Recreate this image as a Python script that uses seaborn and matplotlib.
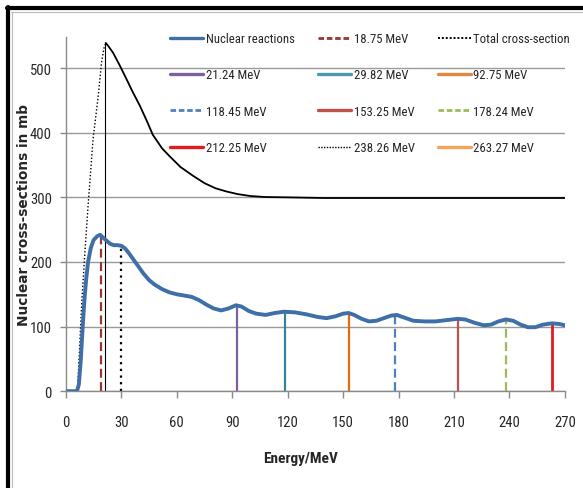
import numpy as np
import pandas as pd
import matplotlib
matplotlib.use('Agg')
import matplotlib.pyplot as plt
import seaborn as sns
from matplotlib.lines import Line2D
from matplotlib import font_manager

# nuclear reaction cross-section
nuc_energy = [0, 6, 7, 8, 9, 10, 11, 12, 13.5, 15, 17, 18.5, 20, 22, 24, 26, 28, 30, 32, 34,
              36, 38, 40, 42, 45, 48, 52, 56, 60, 64, 68, 72, 76, 80, 84, 88, 92, 95, 99,
              103, 108, 113, 118, 124, 130, 136, 141, 146, 150, 153, 156, 160, 164, 168,
              172, 176, 179, 183, 188, 194, 200, 206, 212, 216, 221, 226, 230, 234, 238,
              242, 246, 250, 254, 258, 263, 267, 270]
nuc_sigma = [0, 0, 10, 45, 95, 140, 174, 200, 222, 234, 240, 242, 238, 233, 228, 226, 226,
             225, 221, 214, 206, 198, 190, 182, 172, 165, 158, 153, 150, 148, 146, 141, 134,
             128, 125, 128, 133, 131, 124, 120, 118, 121, 123, 122, 119, 115, 113, 116, 120,
             121, 118, 112, 108, 109, 113, 117, 118, 114, 109, 108, 108, 110, 112, 111, 106,
             102, 103, 108, 111, 109, 103, 99, 99, 103, 105, 104, 102]

# total cross-section: rising (dotted) part and falling (solid) part
tot_rise_energy = [6.3, 8.6, 10.3, 12, 14.7, 17.5, 19.3, 20.5, 21.6]
tot_rise_sigma = [0, 138, 215, 287, 390, 457, 509, 530, 539]
tot_fall_energy = [21.6, 23, 25.5, 29, 32.8, 36, 40, 44, 47, 52, 56, 62, 69, 75, 81, 87, 93,
                   100, 108, 120, 140, 270]
tot_fall_sigma = [539, 534, 524, 505, 483, 464, 442, 417, 397, 376, 364, 347, 333, 322, 314,
                  309, 305, 302, 300.5, 300, 299, 299]

# vertical marker lines
marker_energy = [18.75, 21.24, 29.82, 92.75, 118.45, 153.25, 178.24, 212.25, 238.26, 263.27]
marker_top = [242, 540, 226, 134, 123, 121, 118, 112, 111, 105]
marker_labels = ['18.75 MeV', '21.24 MeV', '29.82 MeV', '92.75 MeV', '118.45 MeV',
                 '153.25 MeV', '178.24 MeV', '212.25 MeV', '238.26 MeV', '263.27 MeV']

x_ticks = [0, 30, 60, 90, 120, 150, 180, 210, 240, 270]
y_ticks = [0, 100, 200, 300, 400, 500]

sns.set_style('white')

# pick a narrow font if one is installed (the original looks like Calibri)
have = {(f.name, f.stretch) for f in font_manager.fontManager.ttflist}
names = {f.name for f in font_manager.fontManager.ttflist}
narrow_family, narrow_stretch, fs = 'DejaVu Sans', 'normal', 7.5
if 'Liberation Sans Narrow' in names:
    narrow_family, narrow_stretch, fs = 'Liberation Sans Narrow', 'normal', 9.5
elif 'Roboto Condensed' in names:
    narrow_family, narrow_stretch, fs = 'Roboto Condensed', 'normal', 9.2
elif ('Noto Sans', 'condensed') in have:
    narrow_family, narrow_stretch, fs = 'Noto Sans', 'condensed', 9.2
elif ('DejaVu Sans', 'condensed') in have:
    narrow_family, narrow_stretch, fs = 'DejaVu Sans', 'condensed', 8.5
plt.rcParams['font.family'] = [narrow_family, 'DejaVu Sans']
plt.rcParams['font.stretch'] = narrow_stretch

# styles of the drawn marker lines (colour, linestyle, width)
drawn_style = [('#953735', (0, (4, 2)), 1.6), ('black', '-', 0.8), ('black', (0, (1, 2)), 1.6),
               ('#7D60A0', '-', 1.6), ('#31859C', '-', 1.6), ('#E46C0A', '-', 1.6),
               ('#4F81BD', (0, (4, 2)), 1.6), ('#C0504D', '-', 1.6),
               ('#9BBB59', (0, (4, 2)), 1.6), ('#E41A1C', '-', 2.0)]

fig = plt.figure(figsize=(5.83, 4.89), dpi=100)
ax = fig.add_axes([0.113, 0.198, 0.856, 0.724])

ax.yaxis.grid(True, color='#9a9a9a', linewidth=1.0)
ax.set_axisbelow(True)

for e, top, (c, ls, lw) in zip(marker_energy, marker_top, drawn_style):
    ax.vlines(e, 0, top, colors=c, linestyles=ls, linewidth=lw, zorder=2)

rise = pd.DataFrame({'E': tot_rise_energy, 's': tot_rise_sigma})
fall = pd.DataFrame({'E': tot_fall_energy, 's': tot_fall_sigma})
nuc = pd.DataFrame({'E': nuc_energy, 's': nuc_sigma})
sns.lineplot(data=rise, x='E', y='s', ax=ax, color='black', linewidth=1.0,
             linestyle=(0, (1, 1.5)), sort=False, zorder=3)
sns.lineplot(data=fall, x='E', y='s', ax=ax, color='black', linewidth=1.3, sort=False, zorder=3)
sns.lineplot(data=nuc, x='E', y='s', ax=ax, color='#3F6FA8', linewidth=2.8, sort=False, zorder=4)

ax.set_xlim(0, 270)
ax.set_ylim(0, 548)
ax.set_xticks(x_ticks)
ax.set_yticks(y_ticks)
ax.tick_params(axis='x', direction='out', length=5, width=1, color='#8a8a8a', pad=12,
               labelsize=fs + 1.3, bottom=True)
ax.tick_params(axis='y', direction='out', length=4, width=1, color='#8a8a8a', pad=6,
               labelsize=fs + 1.3, left=True)
for side in ['top', 'right']:
    ax.spines[side].set_visible(False)
for side in ['left', 'bottom']:
    ax.spines[side].set_color('#8a8a8a')
    ax.spines[side].set_linewidth(1.0)

ax.set_xlabel('Energy/MeV', fontsize=fs + 1.8, fontweight='bold')
ax.xaxis.set_label_coords(0.47, -0.168)
ax.set_ylabel('Nuclear cross-sections in mb', fontsize=9.8, fontweight='bold',
              family='DejaVu Sans', stretch='normal')
ax.yaxis.set_label_coords(-0.07, 0.5)

# legend as shown in the picture (row-major, 3 columns)
leg_items = [
    ('Nuclear reactions', '#3F6FA8', '-', 2.4),
    (marker_labels[0], '#953735', (0, (2, 1)), 2.0),
    ('Total cross-section', 'black', (0, (1, 1)), 1.4),
    (marker_labels[1], '#7D60A0', '-', 2.4),
    (marker_labels[2], '#4A9AAE', '-', 2.4),
    (marker_labels[3], '#E0883E', '-', 2.4),
    (marker_labels[4], '#4F81BD', (0, (2, 1)), 2.0),
    (marker_labels[5], '#C0504D', '-', 2.4),
    (marker_labels[6], '#9BBB59', (0, (2, 1)), 2.0),
    (marker_labels[7], '#E41A1C', '-', 2.4),
    (marker_labels[8], 'black', (0, (1, 1)), 1.0),
    (marker_labels[9], '#F7A35C', '-', 2.4),
]
order = [0, 3, 6, 9, 1, 4, 7, 10, 2, 5, 8, 11]
handles = [Line2D([], [], color=leg_items[i][1], linestyle=leg_items[i][2],
                  linewidth=leg_items[i][3]) for i in order]
labels = [leg_items[i][0] for i in order]
ax.legend(handles, labels, ncol=3, loc='upper left', bbox_to_anchor=(0.272, 0.956),
          bbox_transform=fig.transFigure, frameon=False, fontsize=fs,
          handlelength=2.6, handletextpad=0.2, columnspacing=1.8, labelspacing=1.83)

# outer frame (top and left edges visible)
fig.add_artist(Line2D([0.012, 1.0], [0.981, 0.981], color='black', linewidth=3,
                      transform=fig.transFigure))
fig.add_artist(Line2D([0.014, 0.014], [0.0, 0.983], color='black', linewidth=3,
                      transform=fig.transFigure))
fig.add_artist(Line2D([0.019, 1.0], [0.973, 0.973], color='#bbbbbb', linewidth=0.8,
                      transform=fig.transFigure))
fig.add_artist(Line2D([0.021, 0.021], [0.0, 0.973], color='#bbbbbb', linewidth=0.8,
                      transform=fig.transFigure))

fig.savefig('out.png', dpi=100)
